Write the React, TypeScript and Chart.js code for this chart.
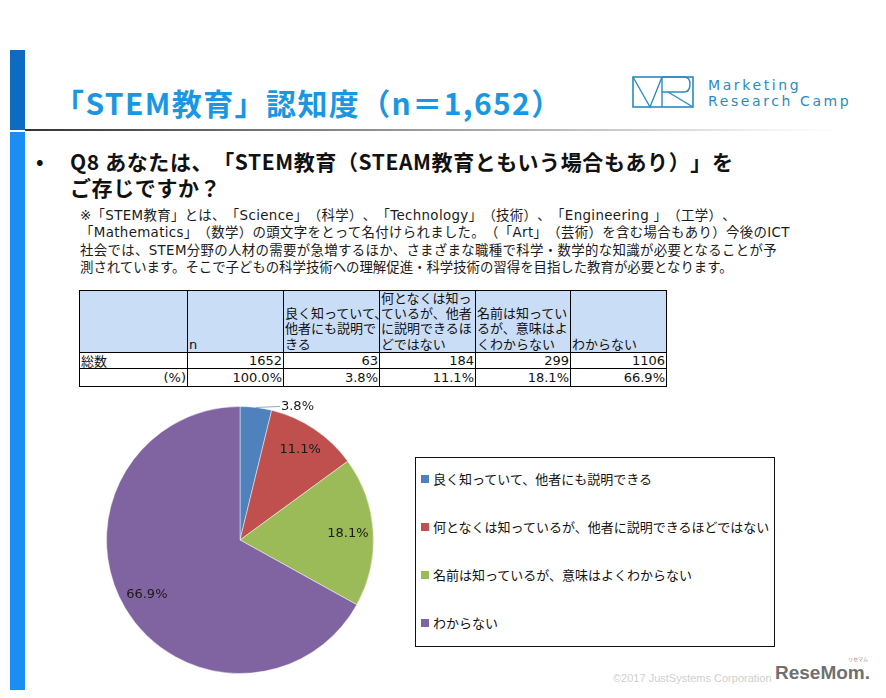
import React, { useEffect, useRef } from "react";
import { Chart, registerables } from "chart.js";

Chart.register(...registerables);

// ---- data ----
const categories = [
  "良く知っていて、他者にも説明できる",
  "何となくは知っているが、他者に説明できるほどではない",
  "名前は知っているが、意味はよくわからない",
  "わからない",
];
const counts = [63, 184, 299, 1106];
const percents = [3.8, 11.1, 18.1, 66.9];
const totalN = 1652;
const totalPct = "100.0%";
const rowLabels = ["総数", "(%)"];
const headerLines = [
  ["n"],
  ["良く知っていて、", "他者にも説明で", "きる"],
  ["何となくは知っ", "ているが、他者", "に説明できるほ", "どではない"],
  ["名前は知ってい", "るが、意味はよ", "くわからない"],
  ["わからない"],
];
const sliceColors = ["#4f81bd", "#c0504d", "#9bbb59", "#8064a2"];

const titleText = "「STEM教育」認知度（n＝1,652）";
const questionLines = [
  "Q8 あなたは、「STEM教育（STEAM教育ともいう場合もあり）」を",
  "ご存じですか？",
];
const noteLines = [
  "※「STEM教育」とは、「Science」（科学）、「Technology」（技術）、「Engineering 」（工学）、",
  "「Mathematics」（数学）の頭文字をとって名付けられました。（「Art」（芸術）を含む場合もあり）今後のICT",
  "社会では、STEM分野の人材の需要が急増するほか、さまざまな職種で科学・数学的な知識が必要となることが予",
  "測されています。そこで子どもの科学技術への理解促進・科学技術の習得を目指した教育が必要となります。",
];

const JP = "'Noto Sans CJK JP', sans-serif";
const MIX = "'DejaVu Sans', 'Noto Sans CJK JP', sans-serif";

const sliceLabelPlugin = {
  id: "sliceLabels",
  afterDatasetsDraw(chart: any) {
    const ctx = chart.ctx;
    const meta = chart.getDatasetMeta(0);
    ctx.save();
    ctx.font = "13px 'DejaVu Sans'";
    ctx.fillStyle = "#1a1a1a";
    meta.data.forEach((arc: any, i: number) => {
      const p = arc.getProps(["x", "y", "startAngle", "endAngle", "outerRadius"], true);
      const mid = (p.startAngle + p.endAngle) / 2;
      const text = percents[i].toFixed(1) + "%";
      if (percents[i] < 5) {
        const sx = p.x + Math.cos(mid) * p.outerRadius;
        const sy = p.y + Math.sin(mid) * p.outerRadius;
        const ex = sx + 24;
        const ey = sy - 1;
        ctx.strokeStyle = "#8fa8c6";
        ctx.lineWidth = 1;
        ctx.beginPath();
        ctx.moveTo(sx, sy);
        ctx.lineTo(ex, ey);
        ctx.stroke();
        ctx.textAlign = "left";
        ctx.textBaseline = "middle";
        ctx.fillText(text, ex + 1, ey);
      } else {
        const r = p.outerRadius * 0.81;
        ctx.textAlign = "center";
        ctx.textBaseline = "middle";
        ctx.fillText(text, p.x + Math.cos(mid) * r, p.y + Math.sin(mid) * r);
      }
    });
    ctx.restore();
  },
};

function PieChart() {
  const ref = useRef<HTMLCanvasElement | null>(null);
  useEffect(() => {
    if (!ref.current) return;
    const chart = new Chart(ref.current, {
      type: "pie",
      data: {
        labels: categories,
        datasets: [
          {
            data: counts,
            backgroundColor: sliceColors,
            borderColor: "rgba(255,255,255,0.45)",
            borderWidth: 1,
          },
        ],
      },
      options: {
        animation: false,
        responsive: true,
        maintainAspectRatio: false,
        layout: { padding: 16 },
        plugins: {
          legend: { display: false },
          tooltip: { enabled: false },
        },
      },
      plugins: [sliceLabelPlugin],
    });
    return () => chart.destroy();
  }, []);
  return (
    <div style={{ position: "absolute", left: 90, top: 390, width: 300, height: 300 }}>
      <canvas ref={ref} />
    </div>
  );
}

function T(props: {
  x: number;
  cy: number;
  size: number;
  text: string;
  color?: string;
  bold?: boolean;
  font?: string;
  ls?: number;
  lh?: number;
}) {
  const lh = props.lh || props.size * 1.3;
  const style: any = {
    position: "absolute",
    left: props.x,
    top: props.cy - lh / 2,
    height: lh,
    lineHeight: lh + "px",
    fontSize: props.size,
    fontFamily: props.font || JP,
    fontWeight: props.bold ? 700 : 400,
    color: props.color || "#111",
    whiteSpace: "nowrap",
    letterSpacing: props.ls ? props.ls + "px" : undefined,
    textSpacingTrim: "space-all",
  };
  return <div style={style}>{props.text}</div>;
}

const colX = [79, 187, 283, 379, 475, 570, 666];
const rowY = [290, 352, 368, 386];

function DataTable() {
  const cells: React.ReactNode[] = [];
  const border = "1px solid #000";
  for (let c = 0; c < 6; c++) {
    const lines = c === 0 ? [] : headerLines[c - 1];
    cells.push(
      <div
        key={"h" + c}
        style={{
          position: "absolute",
          left: colX[c],
          top: rowY[0],
          width: colX[c + 1] - colX[c] + 1,
          height: rowY[1] - rowY[0] + 1,
          boxSizing: "border-box",
          border,
          background: "#c9ddf6",
          display: "flex",
          flexDirection: "column",
          justifyContent: "flex-end",
          padding: "0 0 0 1px",
          fontSize: 13,
          lineHeight: "15.3px",
          fontFamily: MIX,
          color: "#111",
          whiteSpace: "nowrap",
          overflow: "visible",
          zIndex: 1,
        }}
      >
        {lines.map((l, i) => (
          <div key={i}>{l}</div>
        ))}
      </div>
    );
  }
  const rowValues = [
    [String(totalN), ...counts.map((v) => String(v))],
    [totalPct, ...percents.map((v) => v.toFixed(1) + "%")],
  ];
  for (let r = 0; r < 2; r++) {
    for (let c = 0; c < 6; c++) {
      const isLabel = c === 0;
      const text = isLabel ? rowLabels[r] : rowValues[r][c - 1];
      const alignRight = !(isLabel && r === 0);
      cells.push(
        <div
          key={"r" + r + "c" + c}
          style={{
            position: "absolute",
            left: colX[c],
            top: rowY[r + 1],
            width: colX[c + 1] - colX[c] + 1,
            height: rowY[r + 2] - rowY[r + 1] + 1,
            boxSizing: "border-box",
            border,
            background: "#fff",
            display: "flex",
            alignItems: "center",
            justifyContent: alignRight ? "flex-end" : "flex-start",
            padding: "0 1px",
            fontSize: 13,
            fontFamily: MIX,
            color: "#111",
            whiteSpace: "nowrap",
          }}
        >
          {text}
        </div>
      );
    }
  }
  return <>{cells}</>;
}

function Legend() {
  const itemY = [479, 527, 575, 623];
  return (
    <>
      <div
        style={{
          position: "absolute",
          left: 415,
          top: 457,
          width: 360,
          height: 190,
          boxSizing: "border-box",
          border: "1px solid #111",
          background: "#fff",
        }}
      />
      {categories.map((c, i) => (
        <React.Fragment key={i}>
          <div
            style={{
              position: "absolute",
              left: 421,
              top: itemY[i] - 4,
              width: 8,
              height: 8,
              background: sliceColors[i],
            }}
          />
          <T x={433} cy={itemY[i]} size={13} text={c} color="#111" />
        </React.Fragment>
      ))}
    </>
  );
}

function Logo() {
  const c = "#2b8bc1";
  return (
    <>
      <svg
        style={{ position: "absolute", left: 630, top: 74 }}
        width={66}
        height={37}
        viewBox="630 74 66 37"
      >
        <rect x={633} y={77} width={60} height={30} fill="none" stroke={c} strokeWidth={1.6} />
        <polyline points="633,77 650,107 662,77" fill="none" stroke={c} strokeWidth={1.4} />
        <line x1={662} y1={77} x2={662} y2={107} stroke={c} strokeWidth={1.4} />
        <path d="M662,77 L684,77 Q690,77 690,84 Q690,92 684,92 L662,92" fill="none" stroke={c} strokeWidth={1.4} />
        <line x1={668} y1={92} x2={693} y2={107} stroke={c} strokeWidth={1.4} />
      </svg>
      <T x={708} cy={85} size={14} text="Marketing" color={c} font="'DejaVu Sans'" ls={2.6} />
      <T x={708} cy={101} size={14} text="Research Camp" color={c} font="'DejaVu Sans'" ls={2.6} />
    </>
  );
}

export default function App() {
  return (
    <div
      style={{
        position: "absolute",
        left: 0,
        top: 0,
        width: 886,
        height: 698,
        background: "#fff",
        overflow: "hidden",
        fontFamily: JP,
      }}
    >
      <div style={{ position: "absolute", left: 10, top: 50, width: 15, height: 80, background: "#0d6cc2" }} />
      <div style={{ position: "absolute", left: 10, top: 132, width: 15, height: 558, background: "#1a8ef2" }} />
      <div
        style={{
          position: "absolute",
          left: 25,
          top: 129,
          width: 815,
          height: 2,
          background:
            "linear-gradient(to right, #333 0%, #777 30%, #bbb 65%, rgba(230,230,230,0.6) 90%, rgba(255,255,255,0) 100%)",
        }}
      />
      <T x={54} cy={102} size={30} text={titleText} color="#1b97e2" bold ls={1.4} />
      <Logo />
      <T x={36} cy={161} size={20} lh={22} text="•" bold />
      <T x={70} cy={161} size={21} lh={22} text={questionLines[0]} bold ls={0.6} />
      <T x={70} cy={187} size={21} lh={22} text={questionLines[1]} bold ls={0.6} />
      {noteLines.map((l, i) => (
        <T key={i} x={80} cy={215 + i * 17.5} size={13.4} lh={15} text={l} color="#1a1a1a" font={MIX} ls={i === 3 ? 0 : 0.35} />
      ))}
      <DataTable />
      <PieChart />
      <Legend />
      <T x={613} cy={678} size={11} text="©2017 JustSystems Corporation" color="#cfcfcf" font="'Liberation Sans'" />
      <T x={775} cy={673} size={19} text="ReseMom." color="#707070" bold font="'Liberation Sans'" />
      <T x={848} cy={659} size={5} lh={6} text="リセマム" color="#888" />
    </div>
  );
}
